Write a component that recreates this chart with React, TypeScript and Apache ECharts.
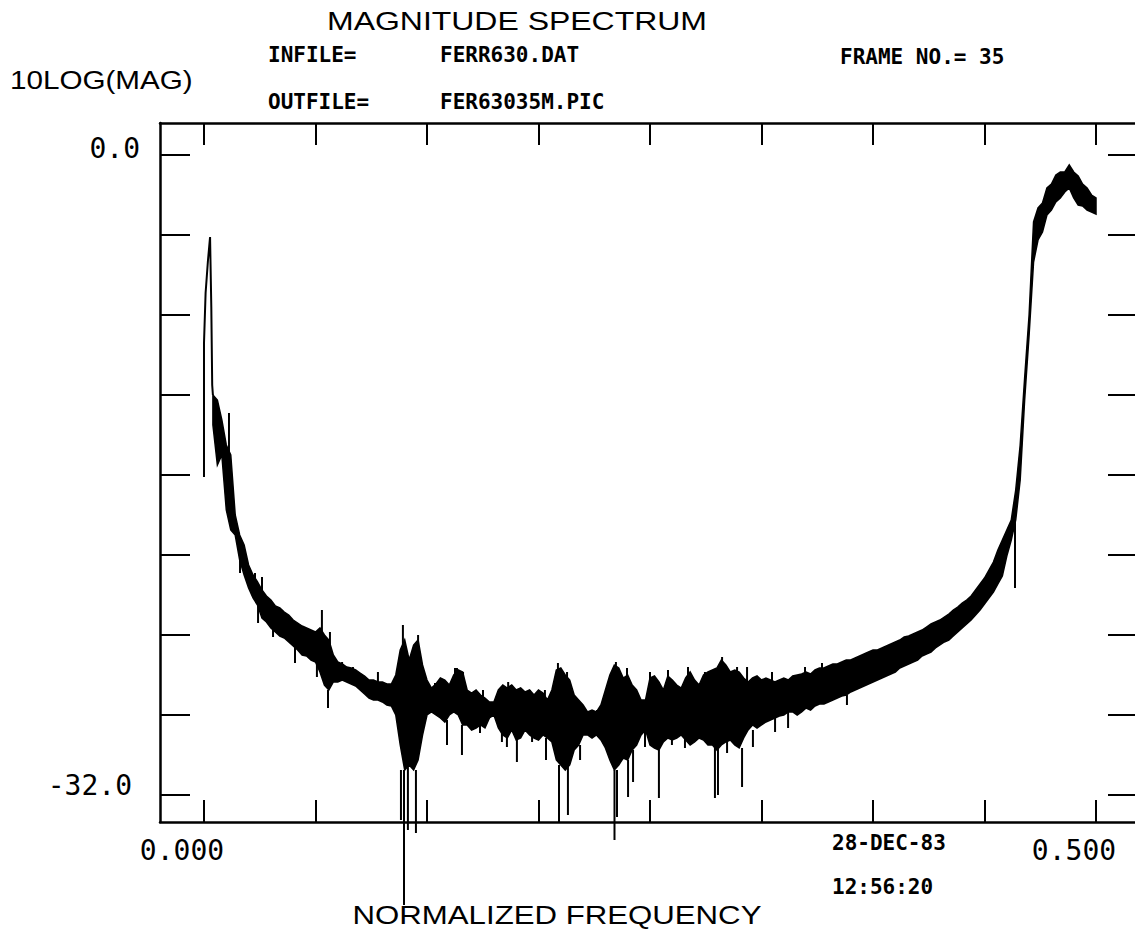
import React, { useEffect, useRef } from "react";
import * as echarts from "echarts";

// ---- data ----
const bandStart = 0.005;
const bandStep = 0.0025;
const bandUpper = [
  -12.0, -12.25, -13.25, -14.5, -15.0, -18.0, -19.0, -19.5, -20.5, -21.0,
  -21.35, -21.75, -22.05, -22.25, -22.55, -22.65, -22.85, -23.0, -23.25, -23.4,
  -23.55, -23.65, -23.75, -23.85, -23.65, -24.0, -24.25, -25.0, -25.35, -25.45,
  -25.6, -25.65, -25.75, -25.9, -26.05, -26.25, -26.25, -26.35, -26.35, -26.45,
  -26.45, -26.0, -24.75, -24.25, -25.25, -24.5, -24.25, -25.5, -26.25, -26.65,
  -26.45, -26.15, -26.25, -26.5, -26.0, -25.75, -25.85, -26.75, -26.9, -26.75,
  -27.0, -27.15, -27.35, -27.35, -26.75, -26.5, -26.65, -26.5, -26.75, -26.65,
  -26.85, -26.75, -27.0, -26.75, -26.9, -27.25, -26.75, -25.75, -25.65, -26.0,
  -26.25, -27.0, -27.25, -27.5, -27.85, -27.75, -27.85, -27.5, -26.75, -26.0,
  -25.5, -25.65, -26.15, -26.0, -26.5, -26.75, -27.25, -27.25, -26.15, -26.05,
  -26.35, -26.75, -26.05, -26.25, -26.5, -26.65, -26.15, -25.85, -26.25, -26.5,
  -26.0, -25.85, -25.75, -25.65, -25.25, -25.5, -25.85, -25.75, -25.85, -26.15,
  -26.35, -26.15, -26.05, -26.25, -26.15, -26.25, -26.35, -26.25, -26.15, -26.25,
  -26.05, -26.0, -25.95, -25.85, -25.95, -25.75, -25.65, -25.65, -25.55, -25.45,
  -25.45, -25.35, -25.25, -25.25, -25.15, -25.05, -24.95, -24.85, -24.75, -24.75,
  -24.65, -24.55, -24.45, -24.35, -24.25, -24.1, -24.05, -23.95, -23.85, -23.75,
  -23.6, -23.45, -23.35, -23.25, -23.1, -22.95, -22.75, -22.6, -22.4, -22.25,
  -22.05, -21.75, -21.45, -21.15, -20.75, -20.35, -19.75, -19.25, -18.75, -18.25,
  -16.75, -14.5, -11.15, -8.0, -3.35, -2.65, -2.4, -1.65, -1.45, -1.0,
  -0.85, -0.85, -0.5, -0.85, -1.05, -1.45, -1.65, -2.0, -2.15,
];
const bandLower = [
  -13.5, -15.5, -15.0, -17.75, -18.75, -19.0, -20.25, -21.0, -21.65, -22.15,
  -22.5, -23.15, -23.35, -23.65, -23.85, -24.05, -24.15, -24.35, -24.55, -24.75,
  -25.0, -25.05, -25.25, -25.35, -25.85, -26.5, -26.75, -26.35, -26.35, -26.25,
  -26.35, -26.45, -26.55, -26.75, -26.95, -27.15, -27.25, -27.25, -27.35, -27.5,
  -27.55, -28.0, -29.5, -30.75, -30.5, -30.75, -30.25, -29.0, -28.0, -27.85,
  -28.0, -28.15, -28.35, -28.0, -27.85, -28.0, -28.5, -28.5, -28.75, -28.65,
  -28.5, -28.65, -28.15, -28.0, -28.65, -29.0, -29.15, -28.75, -29.25, -29.15,
  -28.75, -29.0, -29.15, -29.25, -29.0, -29.15, -29.35, -30.25, -30.5, -30.75,
  -30.5, -29.75, -29.5, -29.0, -29.0, -29.15, -29.0, -29.25, -29.65, -30.25,
  -30.75, -30.5, -30.15, -30.25, -29.75, -29.5, -29.0, -28.75, -29.5, -29.65,
  -29.75, -29.35, -29.15, -29.25, -29.15, -29.0, -29.25, -29.5, -29.35, -29.15,
  -29.25, -29.5, -29.5, -29.75, -29.5, -29.35, -29.25, -29.5, -29.65, -29.15,
  -28.75, -28.5, -28.65, -28.5, -28.35, -28.25, -28.15, -28.05, -28.0, -27.85,
  -27.85, -28.0, -27.85, -27.65, -27.75, -27.55, -27.45, -27.45, -27.35, -27.25,
  -27.15, -27.05, -27.0, -26.85, -26.75, -26.65, -26.55, -26.45, -26.35, -26.25,
  -26.15, -26.05, -25.95, -25.85, -25.65, -25.55, -25.45, -25.35, -25.25, -25.05,
  -24.95, -24.85, -24.65, -24.5, -24.35, -24.25, -24.05, -23.85, -23.65, -23.45,
  -23.25, -23.0, -22.75, -22.45, -22.15, -21.85, -21.45, -21.05, -20.05, -19.25,
  -18.25, -16.25, -12.25, -9.0, -5.35, -4.25, -3.85, -3.0, -2.75, -2.35,
  -2.15, -1.85, -1.65, -2.15, -2.5, -2.55, -2.75, -2.85, -2.95,
];
const leadFreq = [0.0, 0.0, 0.0009, 0.0022, 0.0034, 0.0041, 0.0046, 0.005];
const leadDb = [-16.1, -9.4, -6.9, -5.3, -4.1, -7.6, -11.5, -12.0];

const spikeFreq = [
  0.014, 0.0286, 0.0325, 0.0661, 0.0695, 0.1104, 0.1115, 0.1121, 0.1143, 0.1188,
  0.12, 0.1362, 0.1418, 0.1446, 0.1698, 0.1754, 0.1917, 0.1984, 0.199, 0.204,
  0.2108, 0.2301, 0.2309, 0.2315, 0.2377, 0.2405, 0.255, 0.2864, 0.2881, 0.2904,
  0.3016, 0.4546,
  0.0706, 0.0774, 0.0835, 0.0975, 0.1295, 0.1407, 0.1452, 0.1564, 0.1705, 0.1827,
  0.1911, 0.2035, 0.2203, 0.2371, 0.25, 0.2601, 0.2713, 0.2808, 0.2988, 0.3044,
  0.3184, 0.3369, 0.3464, 0.3716,
  0.0633, 0.1082, 0.1547, 0.167, 0.1839, 0.2472, 0.2623, 0.2696, 0.2932, 0.3077,
  0.3201, 0.3274, 0.3341, 0.3604, 0.0202, 0.0303, 0.0387, 0.051,
];
const spikeFrom = [
  -15.25, -21.75, -22.25, -24.25, -26.75, -30.75, -24.75, -30.75, -30.5, -30.75,
  -24.75, -28.25, -26.25, -28.5, -29.0, -29.25, -29.15, -26.25, -30.5, -30.5,
  -29.5, -30.75, -26.0, -30.75, -30.25, -29.75, -29.75, -29.5, -29.5, -25.75,
  -29.65, -18.25,
  -25.25, -25.85, -26.0, -26.75, -27.25, -26.75, -26.75, -27.75, -27.75, -28.0,
  -28.0, -27.25, -28.5, -27.25, -27.25, -27.25, -27.25, -27.25, -27.25, -27.25,
  -27.25, -26.75, -26.5, -25.75,
  -24.75, -27.25, -28.25, -28.5, -28.75, -28.75, -28.75, -28.75, -29.0, -28.75,
  -28.0, -27.75, -27.5, -27.0, -20.25, -22.25, -23.5, -24.5,
];
const spikeTo = [
  -12.9, -20.9, -21.1, -22.75, -27.65, -33.25, -23.5, -37.5, -33.75, -33.9,
  -24.0, -29.5, -25.65, -30.0, -29.6, -30.35, -30.25, -25.4, -33.4, -33.0,
  -30.25, -34.25, -25.35, -33.1, -32.1, -31.35, -32.15, -32.15, -32.0, -25.1,
  -31.6, -21.65,
  -23.85, -25.35, -25.6, -25.85, -26.4, -25.65, -25.85, -26.75, -26.35, -26.75,
  -26.75, -25.85, -27.75, -25.65, -25.85, -25.75, -25.6, -25.85, -25.6, -25.6,
  -25.85, -25.6, -25.4, -25.0,
  -26.1, -27.85, -28.9, -29.35, -29.35, -29.6, -29.5, -29.65, -29.9, -29.6,
  -28.85, -28.65, -27.85, -27.5, -20.9, -23.4, -24.1, -25.4,
];

const xTicks = [0, 0.0625, 0.125, 0.1875, 0.25, 0.3125, 0.375, 0.4375, 0.5];
const xLabelValues = [0, 0.5];
const yTicks = [0, -4, -8, -12, -16, -20, -24, -28, -32];
const yLabelValues = [0, -32];

const X_MIN = -0.02466;
const X_MAX = 0.52186;
const Y_MIN = -33.35;
const Y_MAX = 1.6;

const BIG_FONT = "Liberation Sans";
const MONO = "DejaVu Sans Mono";

export default function App() {
  const ref = useRef<HTMLDivElement>(null);

  useEffect(() => {
    if (!ref.current) return;
    const chart = echarts.init(ref.current, undefined, { renderer: "svg" });

    const black = "#000";
    const tickStyle = { color: black, width: 2 };
    const frameStyle = { color: black, width: 2.5 };

    const bigText = (text: string, x: number, y: number, align: string, sx: number) => ({
      type: "text",
      x,
      y,
      scaleX: sx,
      style: {
        text,
        font: `26px "${BIG_FONT}"`,
        fill: black,
        textAlign: align,
        textVerticalAlign: "middle",
      },
    });
    const smallText = (text: string, x: number, y: number) => ({
      type: "text",
      x,
      y,
      style: {
        text,
        font: `bold 21px "${MONO}"`,
        fill: black,
        textAlign: "left",
        textVerticalAlign: "middle",
      },
    });

    const option: any = {
      animation: false,
      backgroundColor: "#fff",
      grid: { left: 160, right: 0, top: 123, bottom: 108, containLabel: false },
      xAxis: [
        {
          type: "value",
          position: "bottom",
          min: X_MIN,
          max: X_MAX,
          axisLine: { show: true, onZero: false, lineStyle: frameStyle },
          axisTick: { show: true, inside: true, length: 22, customValues: xTicks, lineStyle: tickStyle },
          axisLabel: {
            show: true,
            customValues: xLabelValues,
            margin: 14,
            formatter: (v: number) => `{a|${v.toFixed(3)}}`,
            rich: {
              a: { fontFamily: MONO, fontSize: 28, color: black, padding: [0, 44, 0, 0] },
            },
          },
          splitLine: { show: false },
        },
        {
          type: "value",
          position: "top",
          min: X_MIN,
          max: X_MAX,
          axisLine: { show: true, onZero: false, lineStyle: frameStyle },
          axisTick: { show: true, inside: true, length: 22, customValues: xTicks, lineStyle: tickStyle },
          axisLabel: { show: false },
          splitLine: { show: false },
        },
      ],
      yAxis: [
        {
          type: "value",
          position: "left",
          min: Y_MIN,
          max: Y_MAX,
          axisLine: { show: true, onZero: false, lineStyle: frameStyle },
          axisTick: { show: true, inside: true, length: 30, customValues: yTicks, lineStyle: tickStyle },
          axisLabel: {
            show: true,
            customValues: yLabelValues,
            margin: 20,
            formatter: (v: number) => (v === 0 ? `{a|${v.toFixed(1)}}` : `{b|${v.toFixed(1)}}`),
            rich: {
              a: { fontFamily: MONO, fontSize: 28, color: black, padding: [0, 0, 14, 0] },
              b: { fontFamily: MONO, fontSize: 28, color: black, padding: [0, 8, 20, 0] },
            },
          },
          splitLine: { show: false },
        },
        {
          type: "value",
          position: "right",
          min: Y_MIN,
          max: Y_MAX,
          axisLine: { show: false, onZero: false },
          axisTick: { show: true, inside: true, length: 27, customValues: yTicks, lineStyle: tickStyle },
          axisLabel: { show: false },
          splitLine: { show: false },
        },
      ],
      series: [
        {
          type: "custom",
          name: "band",
          clip: true,
          data: [[bandStart, bandUpper[0]]],
          renderItem: (_params: any, api: any) => {
            const pts: number[][] = [];
            for (let i = 0; i < bandUpper.length; i++) {
              pts.push(api.coord([bandStart + i * bandStep, bandUpper[i]]));
            }
            for (let i = bandLower.length - 1; i >= 0; i--) {
              pts.push(api.coord([bandStart + i * bandStep, bandLower[i]]));
            }
            return {
              type: "polygon",
              shape: { points: pts },
              style: { fill: black, stroke: black, lineWidth: 1.5 },
            };
          },
        },
        {
          type: "line",
          name: "lead",
          data: leadFreq.map((f, i) => [f, leadDb[i]]),
          showSymbol: false,
          symbol: "none",
          lineStyle: { color: black, width: 2 },
        },
        {
          type: "custom",
          name: "spikes",
          clip: false,
          data: spikeFreq.map((f, i) => [f, spikeFrom[i], spikeTo[i]]),
          encode: { x: 0, y: [1, 2] },
          renderItem: (_params: any, api: any) => {
            const p1 = api.coord([api.value(0), api.value(1)]);
            const p2 = api.coord([api.value(0), api.value(2)]);
            return {
              type: "line",
              shape: { x1: p1[0], y1: p1[1], x2: p2[0], y2: p2[1] },
              style: { stroke: black, lineWidth: 2 },
            };
          },
        },
      ],
      graphic: [
        bigText("MAGNITUDE SPECTRUM", 517, 21, "center", 1.23),
        smallText("INFILE=", 268, 55),
        smallText("FERR630.DAT", 440, 55),
        smallText("FRAME NO.= 35", 840, 57),
        bigText("10LOG(MAG)", 10, 80, "left", 1.14),
        smallText("OUTFILE=", 268, 102),
        smallText("FER63035M.PIC", 440, 102),
        smallText("28-DEC-83", 832, 843),
        smallText("12:56:20", 832, 887),
        bigText("NORMALIZED FREQUENCY", 557, 915, "center", 1.2),
      ],
    };

    chart.setOption(option);
    return () => chart.dispose();
  }, []);

  return (
    <div
      ref={ref}
      style={{ position: "absolute", left: 0, top: 0, width: 1135, height: 930, background: "#fff" }}
    />
  );
}
